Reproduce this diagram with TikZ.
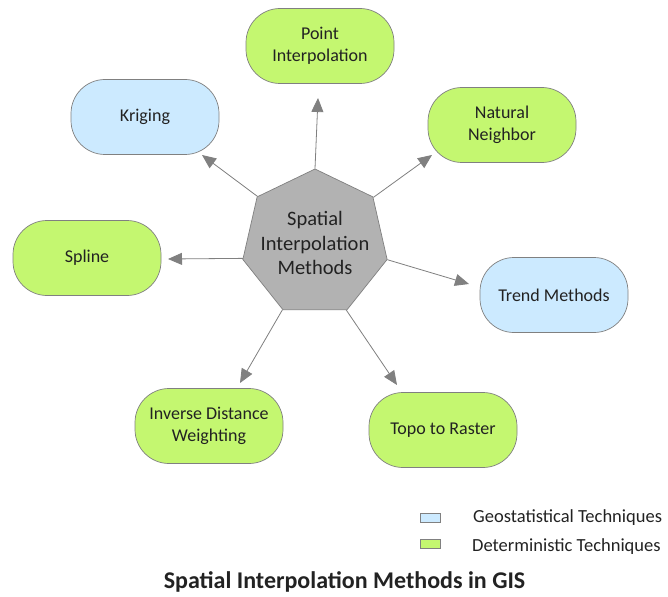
\documentclass[tikz,border=0pt]{standalone}
\usepackage{fontspec}
\setmainfont{Carlito}
\usetikzlibrary{shapes.geometric,arrows.meta}
\definecolor{lime}{RGB}{196,247,112}
\definecolor{sky}{RGB}{204,234,255}
\definecolor{hepgray}{RGB}{178,178,178}
\definecolor{edgegray}{RGB}{128,128,128}
\definecolor{txt}{RGB}{34,34,34}
\begin{document}
\begin{tikzpicture}[x=1pt,y=-1pt,
  method/.style={draw=edgegray, line width=0.7pt, rounded corners=34pt,
    minimum width=148pt, minimum height=75pt, align=center,
    font=\fontsize{18}{22.5}\selectfont, text=txt, inner sep=0pt},
  geo/.style={method, fill=sky},
  det/.style={method, fill=lime},
  arr/.style={draw=edgegray, line width=0.8pt, -{Triangle[length=14pt,width=12pt]}},
  swatch/.style={draw=edgegray, line width=0.6pt, minimum width=20pt, minimum height=9pt, inner sep=0pt},
  legtext/.style={anchor=west, font=\fontsize{18.5}{22}\selectfont, text=txt, inner sep=0pt}
]
\useasboundingbox[fill=white] (0,0) rectangle (668,596);

\node[regular polygon, regular polygon sides=7, minimum size=148pt, fill=hepgray,
  draw=edgegray, line width=0.7pt, inner sep=0pt] (h) at (315,243) {};
\node[align=center, text=txt, inner sep=0pt,
  font=\fontsize{20.5}{24.5}\selectfont] (hlabel) at (h.center) {Spatial\\Interpolation\\Methods};

\node[det] (pi) at (320,46) {Point\\Interpolation};
\node[det] (nn) at (502,125) {Natural\\Neighbor};
\node[geo] (kr) at (145,117) {Kriging};
\node[det] (sp) at (87,258) {Spline};
\node[geo] (tr) at (554,295) {Trend Methods};
\node[det] (idw) at (209,426) {Inverse Distance\\Weighting};
\node[det] (topo) at (443,430) {Topo to Raster};

\coordinate (tPI) at (318,98);
\coordinate (tKr) at (202,155);
\coordinate (tNN) at (432,155);
\coordinate (tSp) at (168,259);
\coordinate (tTr) at (469,284);
\coordinate (tIDW) at (240,383);
\coordinate (tTo) at (397,385);

\draw[arr] (h.90) -- (tPI);
\draw[arr] (h.141.43) -- (tKr);
\draw[arr] (h.38.57) -- (tNN);
\draw[arr] (h.192.86) -- (tSp);
\draw[arr] (h.347.14) -- (tTr);
\draw[arr] (h.244.29) -- (tIDW);
\draw[arr] (h.295.71) -- (tTo);

\node[swatch, fill=sky] (lg1) at (430,517.5) {};
\node[legtext] (lt1) at (473,518) {Geostatistical Techniques};
\node[swatch, fill=lime] (lg2) at (430,543.5) {};
\node[legtext] (lt2) at (472,547) {Deterministic Techniques};

\node[font=\bfseries\fontsize{24}{28}\selectfont, text=txt] (title) at (344.5,582) {Spatial Interpolation Methods in GIS};
\end{tikzpicture}
\end{document}
